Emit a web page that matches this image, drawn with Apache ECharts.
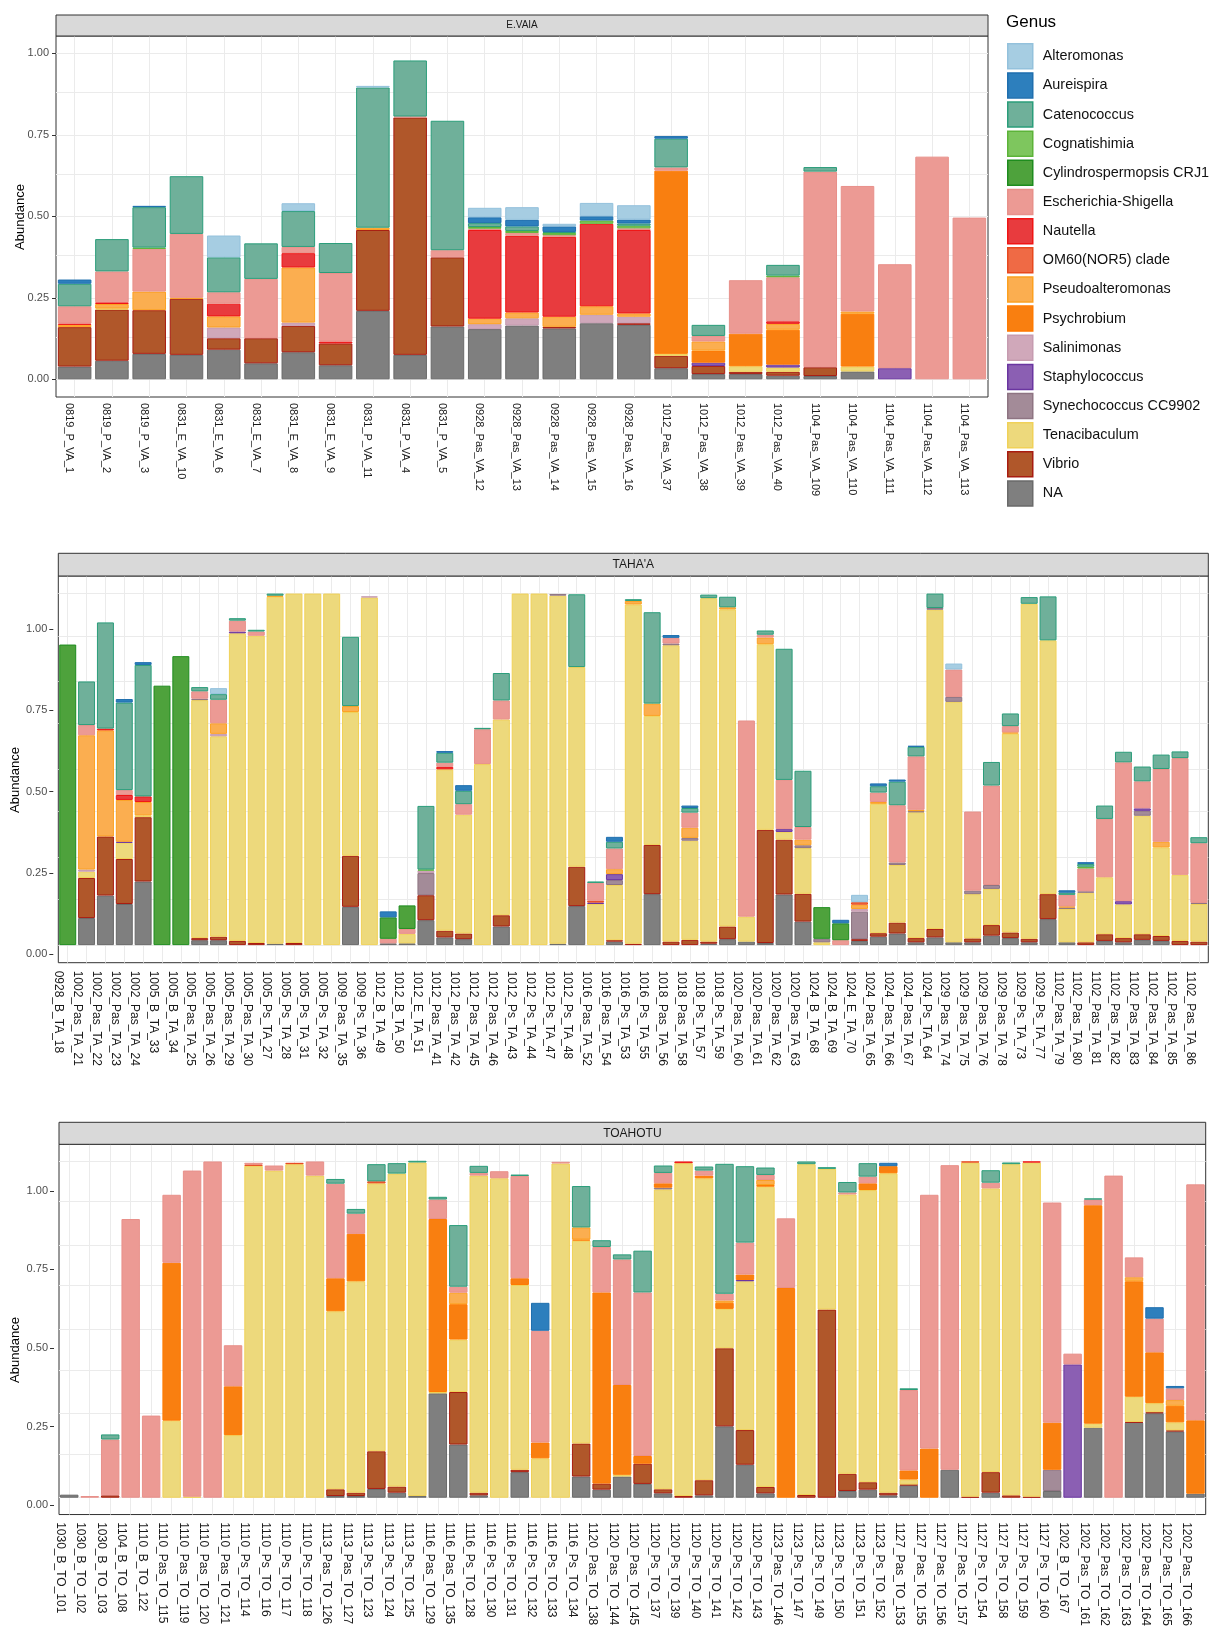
<!DOCTYPE html>
<html><head><meta charset="utf-8">
<script src="https://cdn.jsdelivr.net/npm/echarts@6/dist/echarts.min.js"></script>
<style>html,body{margin:0;padding:0;background:#fff}#c{width:1213px;height:1629px}</style>
</head><body><div id="c"></div>
<script>
// ---------------- DATA ----------------
const genusNames = ['Alteromonas','Aureispira','Catenococcus','Cognatishimia','Cylindrospermopsis CRJ1','Escherichia-Shigella','Nautella','OM60(NOR5) clade','Pseudoalteromonas','Psychrobium','Salinimonas','Staphylococcus','Synechococcus CC9902','Tenacibaculum','Vibrio','NA'];
const genusCodes = ['Alt','Aur','Cat','Cog','Cyl','Esc','Nau','OM6','Pse','Psy','Sal','Sta','Syn','Ten','Vib','NA'];
const yTickValues = [0, 0.25, 0.5, 0.75, 1];
const yGridValues = [0, 0.125, 0.25, 0.375, 0.5, 0.625, 0.75, 0.875, 1];

const vaiaSamples = ['0819_P_VA_1','0819_P_VA_2','0819_P_VA_3','0831_E_VA_10','0831_E_VA_6','0831_E_VA_7','0831_E_VA_8','0831_E_VA_9','0831_P_VA_11','0831_P_VA_4','0831_P_VA_5','0928_Pas_VA_12','0928_Pas_VA_13','0928_Pas_VA_14','0928_Pas_VA_15','0928_Pas_VA_16','1012_Pas_VA_37','1012_Pas_VA_38','1012_Pas_VA_39','1012_Pas_VA_40','1104_Pas_VA_109','1104_Pas_VA_110','1104_Pas_VA_111','1104_Pas_VA_112','1104_Pas_VA_113'];
const vaiaAbundance = [
 {NA:.039,Vib:.121,Pse:.007,Nau:.004,Esc:.053,Cat:.069,Aur:.013},
 {NA:.057,Vib:.157,Ten:.003,Pse:.014,Nau:.005,Esc:.095,Cat:.099},
 {NA:.078,Vib:.134,Pse:.057,Esc:.131,Cog:.004,Cat:.124,Aur:.004},
 {NA:.075,Vib:.172,Pse:.003,Esc:.196,Cat:.177},
 {NA:.091,Vib:.035,Sal:.033,Pse:.034,Nau:.039,Esc:.035,Cat:.107,Alt:.067},
 {NA:.049,Vib:.077,Esc:.182,Cat:.109},
 {NA:.083,Vib:.081,Sal:.010,Pse:.169,Nau:.044,Esc:.019,Cat:.110,Alt:.024},
 {NA:.043,Vib:.067,Nau:.006,Esc:.210,Cat:.092},
 {NA:.210,Vib:.248,Pse:.007,Cat:.430,Alt:.005},
 {NA:.075,Vib:.728,Esc:.003,Cat:.172},
 {NA:.162,Vib:.212,Esc:.022,Cat:.397},
 {NA:.154,Sal:.015,Pse:.017,Nau:.272,Esc:.004,Cog:.005,Cat:.012,Aur:.018,Alt:.029},
 {NA:.165,Sal:.022,Pse:.018,Nau:.235,Esc:.009,Cog:.006,Cat:.014,Aur:.020,Alt:.039},
 {NA:.156,Vib:.005,Pse:.031,Nau:.245,Esc:.005,Cog:.007,Cat:.003,Aur:.017,Alt:.008},
 {NA:.172,Sal:.026,Pse:.026,Nau:.253,Cog:.010,Aur:.013,Alt:.041},
 {NA:.167,Vib:.005,Sal:.020,Pse:.010,Nau:.256,Esc:.005,Cog:.008,Cat:.007,Aur:.012,Alt:.044},
 {NA:.034,Vib:.038,Ten:.006,Psy:.562,Esc:.010,Cat:.088,Aur:.008},
 {NA:.016,Vib:.025,Sta:.010,Psy:.037,Pse:.028,Esc:.017,Cat:.034},
 {NA:.016,Vib:.007,Ten:.017,Psy:.100,Esc:.164},
 {NA:.011,Vib:.012,Ten:.013,Sta:.009,Psy:.107,Pse:.018,Nau:.008,Esc:.135,Cog:.005,Cat:.033},
 {NA:.010,Vib:.027,Esc:.600,Cat:.014},
 {NA:.024,Ten:.015,Psy:.162,Pse:.007,Esc:.385},
 {Sta:.034,Esc:.319},
 {Esc:.683},
 {Esc:.496}
];

const tahaaSamples = ['0928_B_TA_18','1002_Pas_TA_21','1002_Pas_TA_22','1002_Pas_TA_23','1002_Pas_TA_24','1005_B_TA_33','1005_B_TA_34','1005_Pas_TA_25','1005_Pas_TA_26','1005_Pas_TA_29','1005_Pas_TA_30','1005_Ps_TA_27','1005_Ps_TA_28','1005_Ps_TA_31','1005_Ps_TA_32','1009_Pas_TA_35','1009_Ps_TA_36','1012_B_TA_49','1012_B_TA_50','1012_E_TA_51','1012_Pas_TA_41','1012_Pas_TA_42','1012_Pas_TA_45','1012_Pas_TA_46','1012_Ps_TA_43','1012_Ps_TA_44','1012_Ps_TA_47','1012_Ps_TA_48','1016_Pas_TA_52','1016_Pas_TA_54','1016_Ps_TA_53','1016_Ps_TA_55','1018_Pas_TA_56','1018_Pas_TA_58','1018_Ps_TA_57','1018_Ps_TA_59','1020_Pas_TA_60','1020_Pas_TA_61','1020_Pas_TA_62','1020_Pas_TA_63','1024_B_TA_68','1024_B_TA_69','1024_E_TA_70','1024_Pas_TA_65','1024_Pas_TA_66','1024_Pas_TA_67','1024_Ps_TA_64','1029_Pas_TA_74','1029_Pas_TA_75','1029_Pas_TA_76','1029_Pas_TA_78','1029_Ps_TA_73','1029_Ps_TA_77','1102_Pas_TA_79','1102_Pas_TA_80','1102_Pas_TA_81','1102_Pas_TA_82','1102_Pas_TA_83','1102_Pas_TA_84','1102_Pas_TA_85','1102_Pas_TA_86'];
const tahaaAbundance = [
 {Cyl:.855},
 {NA:.077,Vib:.114,Ten:.018,Sal:.006,Pse:.382,Esc:.029,Cat:.124},
 {NA:.141,Vib:.168,Pse:.302,Nau:.005,Cat:.302},
 {NA:.117,Vib:.128,Ten:.046,Sta:.003,Pse:.119,Nau:.014,Esc:.014,Cat:.249,Aur:.010},
 {NA:.181,Vib:.183,Ten:.005,Pse:.038,Nau:.016,Cat:.374,Aur:.008},
 {Cyl:.738},
 {Cyl:.822},
 {NA:.014,Vib:.006,Ten:.677,Syn:.004,Esc:.021,Cat:.012},
 {NA:.014,Vib:.010,Ten:.570,Sal:.007,Pse:.030,Esc:.067,Cat:.016,Alt:.017},
 {Vib:.012,Ten:.875,Sta:.005,Esc:.031,Cat:.007},
 {Vib:.006,Ten:.874,Esc:.012,Cat:.005},
 {NA:.004,Ten:.987,Pse:.003,Cat:.006},
 {Vib:.006,Ten:.994},
 {Ten:1.0},
 {Ten:1.0},
 {NA:.109,Vib:.145,Ten:.409,Pse:.017,Cat:.197},
 {Ten:.989,Sal:.003},
 {NA:.005,Esc:.013,Cyl:.061,Aur:.017},
 {NA:.005,Ten:.027,Esc:.014,Cyl:.067},
 {NA:.071,Vib:.071,Syn:.063,Sal:.007,Cog:.003,Cat:.181},
 {NA:.022,Vib:.019,Ten:.459,Nau:.007,Esc:.012,Cat:.028,Aur:.005},
 {NA:.017,Vib:.016,Ten:.338,Esc:.030,Cat:.038,Aur:.016},
 {Ten:.515,Esc:.099,Cat:.004},
 {NA:.053,Vib:.032,Ten:.557,Esc:.054,Cat:.078},
 {Ten:1.0},
 {Ten:1.0},
 {NA:.004,Ten:.990,Syn:.005},
 {NA:.111,Vib:.112,Ten:.568,Cat:.207},
 {Ten:.117,Sta:.004,OM6:.005,Esc:.051,Cat:.004},
 {NA:.010,Vib:.004,Ten:.157,Syn:.014,Sta:.017,Pse:.014,Esc:.059,Cat:.019,Aur:.014},
 {Vib:.004,Ten:.965,Pse:.010,Cat:.005},
 {NA:.145,Vib:.140,Ten:.367,Pse:.035,Cat:.260},
 {Vib:.010,Ten:.843,Syn:.005,Esc:.016,Aur:.008},
 {Vib:.015,Ten:.282,Syn:.008,Pse:.029,Esc:.043,Cat:.013,Aur:.007},
 {NA:.004,Vib:.006,Ten:.977,Cat:.010},
 {NA:.017,Vib:.036,Ten:.902,Pse:.006,Cat:.030},
 {NA:.010,Ten:.071,Esc:.558},
 {NA:.006,Vib:.322,Ten:.528,Pse:.019,Esc:.008,Cat:.012},
 {NA:.144,Vib:.156,Ten:.022,Sta:.008,Esc:.140,Cat:.373},
 {NA:.067,Vib:.079,Ten:.130,Syn:.008,Pse:.016,Esc:.036,Cat:.160},
 {Ten:.008,Syn:.010,Cyl:.090},
 {Esc:.014,Cyl:.048,Aur:.010},
 {NA:.012,Vib:.005,Syn:.078,Sal:.008,Pse:.012,OM6:.007,Alt:.021},
 {NA:.024,Vib:.010,Ten:.368,Pse:.005,Esc:.027,Cat:.018,Aur:.008},
 {NA:.033,Vib:.031,Ten:.164,Syn:.007,Esc:.163,Cat:.067,Aur:.006},
 {NA:.008,Vib:.012,Ten:.358,Syn:.003,Pse:.004,Esc:.152,Cat:.027,Aur:.003},
 {NA:.022,Vib:.024,Ten:.908,Syn:.005,Cat:.041},
 {NA:.008,Ten:.684,Syn:.014,Esc:.078,Alt:.017},
 {NA:.008,Vib:.011,Ten:.126,Syn:.010,Esc:.225},
 {NA:.027,Vib:.030,Ten:.103,Syn:.011,Esc:.283,Cat:.067},
 {NA:.020,Vib:.016,Ten:.566,Pse:.003,Esc:.018,Cat:.036},
 {NA:.008,Vib:.010,Ten:.953,Cat:.019},
 {NA:.074,Vib:.071,Ten:.722,Cat:.125},
 {NA:.008,Ten:.095,Syn:.004,Pse:.003,Esc:.033,Cat:.006,Aur:.007},
 {Vib:.008,Ten:.141,Syn:.004,Esc:.065,Cog:.005,Cat:.008,Aur:.005},
 {NA:.012,Vib:.019,Ten:.162,Esc:.166,Cat:.038},
 {NA:.008,Vib:.012,Ten:.096,Sta:.009,Esc:.395,Cat:.030},
 {NA:.015,Vib:.016,Ten:.337,Syn:.014,Sta:.007,Esc:.077,Cat:.042},
 {NA:.012,Vib:.014,Ten:.252,Pse:.016,Esc:.207,Cat:.041},
 {Vib:.012,Ten:.188,Esc:.332,Cat:.019},
 {Vib:.010,Ten:.107,Syn:.003,Esc:.170,Cat:.017}
];

const toahotuSamples = ['1030_B_TO_101','1030_B_TO_102','1030_B_TO_103','1104_B_TO_108','1110_B_TO_122','1110_Pas_TO_115','1110_Pas_TO_119','1110_Pas_TO_120','1110_Pas_TO_121','1110_Ps_TO_114','1110_Ps_TO_116','1110_Ps_TO_117','1110_Ps_TO_118','1113_Pas_TO_126','1113_Pas_TO_127','1113_Ps_TO_123','1113_Ps_TO_124','1113_Ps_TO_125','1116_Pas_TO_129','1116_Pas_TO_135','1116_Ps_TO_128','1116_Ps_TO_130','1116_Ps_TO_131','1116_Ps_TO_132','1116_Ps_TO_133','1116_Ps_TO_134','1120_Pas_TO_138','1120_Pas_TO_144','1120_Pas_TO_145','1120_Ps_TO_137','1120_Ps_TO_139','1120_Ps_TO_140','1120_Ps_TO_141','1120_Ps_TO_142','1120_Ps_TO_143','1123_Pas_TO_146','1123_Ps_TO_147','1123_Ps_TO_149','1123_Ps_TO_150','1123_Ps_TO_151','1123_Ps_TO_152','1127_Pas_TO_153','1127_Pas_TO_155','1127_Pas_TO_156','1127_Pas_TO_157','1127_Ps_TO_154','1127_Ps_TO_158','1127_Ps_TO_159','1127_Ps_TO_160','1202_B_TO_167','1202_Pas_TO_161','1202_Pas_TO_162','1202_Pas_TO_163','1202_Pas_TO_164','1202_Pas_TO_165','1202_Pas_TO_166'];
const toahotuAbundance = [
 {NA:.009},
 {Esc:.005},
 {Vib:.007,Esc:.166,Cat:.015},
 {Esc:.828},
 {Esc:.244},
 {Ten:.229,Psy:.469,Esc:.202},
 {Ten:.003,Esc:.969},
 {Esc:.999},
 {Ten:.186,Psy:.145,Esc:.122},
 {Ten:.986,OM6:.004,Esc:.005},
 {Ten:.972,Esc:.015},
 {Ten:.991,OM6:.004},
 {Ten:.957,Esc:.042},
 {NA:.005,Vib:.020,Ten:.529,Psy:.098,Esc:.281,Cat:.014},
 {NA:.005,Vib:.010,Ten:.628,Psy:.141,Esc:.060,Cat:.014},
 {NA:.026,Vib:.112,Ten:.796,OM6:.006,Cat:.051},
 {NA:.015,Vib:.018,Ten:.930,Cat:.031},
 {NA:.005,Ten:.991,Cat:.005},
 {NA:.310,Ten:.004,Psy:.514,Esc:.058,Cat:.008},
 {NA:.158,Vib:.156,Ten:.156,Psy:.105,Pse:.034,Esc:.018,Cat:.183},
 {NA:.007,Vib:.008,Ten:.942,Esc:.008,Cat:.021},
 {Ten:.949,Esc:.021},
 {NA:.076,Vib:.007,Ten:.549,Psy:.020,Esc:.304,Cat:.004},
 {Ten:.117,Psy:.047,Esc:.332,Aur:.083},
 {Ten:.993,Esc:.005},
 {NA:.063,Vib:.098,Ten:.603,Psy:.003,Pse:.036,Cat:.123},
 {NA:.024,Vib:.018,Psy:.568,Esc:.135,Cat:.020},
 {NA:.063,Ten:.005,Psy:.267,Esc:.373,Cat:.015},
 {NA:.041,Vib:.060,Psy:.023,Esc:.486,Cat:.124},
 {NA:.013,Vib:.012,Ten:.891,Syn:.005,Psy:.013,Esc:.031,Cat:.022},
 {Vib:.005,Ten:.989,Nau:.005},
 {NA:.007,Vib:.045,Ten:.897,Psy:.008,Esc:.015,Cat:.012},
 {NA:.212,Vib:.232,Ten:.117,Psy:.018,Pse:.007,Esc:.020,Cat:.386},
 {NA:.098,Vib:.103,Ten:.442,Sta:.004,Psy:.016,Esc:.095,Cat:.227},
 {NA:.013,Vib:.019,Ten:.892,Psy:.005,Pse:.015,Esc:.015,Cat:.022},
 {Psy:.623,Esc:.207},
 {Vib:.008,Ten:.983,Cat:.008},
 {Vib:.559,Ten:.418,Cat:.005},
 {NA:.020,Vib:.051,Ten:.830,Esc:.006,Cat:.031},
 {NA:.024,Vib:.022,Ten:.868,Psy:.020,Esc:.020,Cat:.040},
 {NA:.007,Vib:.008,Ten:.949,Psy:.021,Aur:.010},
 {NA:.037,Vib:.002,Ten:.015,Psy:.027,Esc:.239,Cat:.005},
 {Psy:.146,Esc:.754},
 {NA:.083,Esc:.905},
 {Vib:.003,Ten:.993,OM6:.003},
 {NA:.015,Vib:.061,Ten:.843,Esc:.017,Cat:.037},
 {Vib:.007,Ten:.984,Cat:.005},
 {Vib:.003,Ten:.993,Nau:.003},
 {NA:.020,Syn:.063,Psy:.140,Esc:.654},
 {Sta:.396,Esc:.032},
 {NA:.208,Ten:.012,Psy:.649,Esc:.017,Cat:.003},
 {Esc:.957},
 {NA:.223,Vib:.002,Ten:.075,Psy:.343,Pse:.012,Esc:.059},
 {NA:.251,Vib:.003,Ten:.027,Psy:.151,Esc:.100,Aur:.034},
 {NA:.197,Vib:.003,Ten:.024,Psy:.049,Pse:.017,Esc:.035,Aur:.007},
 {NA:.012,Psy:.218,Esc:.701}
];

// ---------------- STYLE ----------------
const fillColors = {Alt:'#a6cde2',Aur:'#2d7fbd',Cat:'#6fb09a',Cog:'#7ec65e',Cyl:'#4ea23c',Esc:'#ec9a94',Nau:'#e83b3e',OM6:'#ef6a45',Pse:'#fbae50',Psy:'#f97f10',Sal:'#d0a8ba',Sta:'#8b5fb3',Syn:'#a38b98',Ten:'#edd97c',Vib:'#b0572a',NA:'#7f7f7f'};
const borderColors = {Alt:'#93c1dc',Aur:'#1f6fae',Cat:'#2a9d7a',Cog:'#5cb338',Cyl:'#1e8c1e',Esc:'#e8908a',Nau:'#f01414',OM6:'#e8481e',Pse:'#fca020',Psy:'#ff7a00',Sal:'#c69bb0',Sta:'#6a35a0',Syn:'#8e7482',Ten:'#f0d158',Vib:'#a81c10',NA:'#6a6a6a'};
const FONT = 'Liberation Sans, Arial, Helvetica, sans-serif';

const panels = [
 {title:'E.VAIA', samples:vaiaSamples, abund:vaiaAbundance, left:56, top:36, width:932, height:361, stripTop:15, stripFont:10, labelFont:11, labelMargin:6, labelPad:0,
  trueMin:-0.0543, trueMax:1.053, labMin:-0.0543, labMax:1.053, labOffset:0, labMarginY:7, titleX:20, titleY:217},
 {title:"TAHA'A", samples:tahaaSamples, abund:tahaaAbundance, left:58.3, top:576, width:1150, height:386.7, stripTop:553.3, stripFont:12, labelFont:12, labelMargin:8, labelPad:3,
  trueMin:-0.05, trueMax:1.05, labMin:-0.0258, labMax:1.1629, labOffset:5, labMarginY:6, titleX:15, titleY:780},
 {title:'TOAHOTU', samples:toahotuSamples, abund:toahotuAbundance, left:59, top:1144.3, width:1146.7, height:376.4, stripTop:1122.3, stripFont:12, labelFont:12, labelMargin:7.6, labelPad:3,
  trueMin:-0.05, trueMax:1.05, labMin:-0.0304, labMax:1.1484, labOffset:5, labMarginY:6, titleX:15, titleY:1350}
];

// bottom-to-top stacking order (reverse of legend)
const stackOrder = genusCodes.slice().reverse();

const grids = [], xAxes = [], yAxes = [], series = [], graphics = [];
panels.forEach((p, i) => {
  grids.push({left:p.left, top:p.top, width:p.width, height:p.height, show:true, borderColor:'#333', borderWidth:1, backgroundColor:'#fff', containLabel:false});
  xAxes.push({type:'category', gridIndex:i, data:p.samples,
    axisLine:{show:false}, splitLine:{show:false},
    axisTick:{show:true, alignWithLabel:true, length:4, lineStyle:{color:'#333', width:1}},
    axisLabel:{interval:0, rotate:-90, fontSize:p.labelFont, color:'#1a1a1a', fontFamily:FONT, margin:p.labelMargin, verticalAlign:'top', padding:[p.labelPad,0,0,0]}});
  // true data axis (hidden)
  yAxes.push({type:'value', gridIndex:i, min:p.trueMin, max:p.trueMax, show:false});
  // label axis as drawn in the picture
  yAxes.push({type:'value', gridIndex:i, min:p.labMin, max:p.labMax, position:'left', offset:p.labOffset,
    axisLine:{show:false}, splitLine:{show:false},
    axisTick:{show:true, customValues:yTickValues, length:4, lineStyle:{color:'#333', width:1}},
    axisLabel:{customValues:yTickValues, formatter:v => Number(v).toFixed(2), color:'#4d4d4d', fontSize:11, fontFamily:FONT, margin:p.labMarginY}});
  // gridlines helper
  series.push({type:'line', xAxisIndex:i, yAxisIndex:2*i, data:p.samples.map(() => 0), symbol:'none', silent:true, z:1,
    lineStyle:{opacity:0}, tooltip:{show:false},
    markLine:{silent:true, z:1, symbol:['none','none'], label:{show:false}, animation:false,
      lineStyle:{color:'#ebebeb', width:1, type:'solid'},
      emphasis:{disabled:true},
      data:[...yGridValues.map(v => ({yAxis:v})), ...p.samples.map(s => ({xAxis:s}))]}});
  stackOrder.forEach(code => {
    const gi = genusCodes.indexOf(code);
    series.push({type:'bar', name:genusNames[gi], xAxisIndex:i, yAxisIndex:2*i, stack:'p'+i, barCategoryGap:'10%', z:2,
      data:p.abund.map(o => (o[code] != null ? o[code] : null)),
      itemStyle:{color:fillColors[code], borderColor:borderColors[code], borderWidth:1},
      emphasis:{disabled:true}});
  });
  // strip
  const sh = p.top - p.stripTop;
  graphics.push({type:'rect', shape:{x:p.left, y:p.stripTop, width:p.width, height:sh}, style:{fill:'#d9d9d9', stroke:'#333', lineWidth:1}, z:10});
  graphics.push({type:'text', x:p.left + p.width/2, y:p.stripTop + sh/2, z:11,
    style:{text:p.title, fill:'#1a1a1a', font:p.stripFont + 'px ' + FONT, align:'center', verticalAlign:'middle'}});
  graphics.push({type:'text', x:p.titleX, y:p.titleY, rotation:Math.PI/2, z:11,
    style:{text:'Abundance', fill:'#000', font:'13px ' + FONT, align:'center', verticalAlign:'middle'}});
});
graphics.push({type:'text', x:1006, y:22, z:11, style:{text:'Genus', fill:'#000', font:'17px ' + FONT, align:'left', verticalAlign:'middle'}});

const chart = echarts.init(document.getElementById('c'), null, {renderer:'canvas', width:1213, height:1629});
chart.setOption({
  animation:false,
  backgroundColor:'#fff',
  textStyle:{fontFamily:FONT},
  grid:grids, xAxis:xAxes, yAxis:yAxes, series:series, graphic:graphics,
  legend:{data:genusNames, orient:'vertical', left:1007, top:43, padding:0, itemWidth:25, itemHeight:25, itemGap:2.65, icon:'rect', selectedMode:false,
    itemStyle:{borderWidth:1.5},
    textStyle:{fontSize:14.4, color:'#111', fontFamily:FONT, padding:[0,0,0,5]}}
});
</script></body></html>
